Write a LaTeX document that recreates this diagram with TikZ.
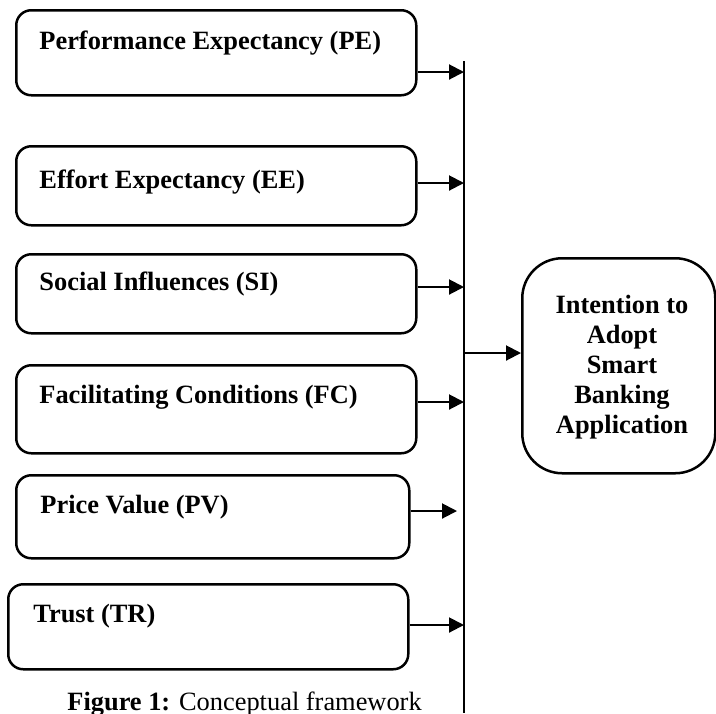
\documentclass[tikz,border=0pt]{standalone}
\usepackage{fontspec}
\setmainfont{Liberation Serif}
\usetikzlibrary{arrows.meta}
\begin{document}
\begin{tikzpicture}[x=0.5pt,y=-0.5pt,
  factor/.style={draw, line width=1.25pt, rounded corners=7.5pt, inner sep=0pt, anchor=north west},
  outcome/.style={draw, line width=1.25pt, rounded corners=20pt, inner sep=0pt, anchor=north west},
  lbl/.style={font=\fontsize{13.2}{15}\selectfont\bfseries, inner sep=0pt, anchor=base west},
  link/.style={line width=1pt, -{Triangle[length=7.5pt,width=7.5pt]}},
  bus/.style={line width=1pt}]
\useasboundingbox (0,0) rectangle (716,713);

% predictor boxes
\node[factor, minimum width=200pt, minimum height=42.5pt] (pe) at (15,9) {};
\node[factor, minimum width=200pt, minimum height=39.5pt] (ee) at (15,145) {};
\node[factor, minimum width=200pt, minimum height=39.5pt] (si) at (15,253) {};
\node[factor, minimum width=200pt, minimum height=44pt] (fc) at (15,364) {};
\node[factor, minimum width=196.5pt, minimum height=41.5pt] (pv) at (15,474) {};
\node[factor, minimum width=200pt, minimum height=42.5pt] (tr) at (7,583) {};

% predictor labels
\node[lbl] (peT) at (39,49) {Performance Expectancy (PE)};
\node[lbl] (eeT) at (39,188) {Effort Expectancy (EE)};
\node[lbl] (siT) at (39,290) {Social Influences (SI)};
\node[lbl] (fcT) at (39,403) {Facilitating Conditions (FC)};
\node[lbl] (pvT) at (40,513) {Price Value (PV)};
\node[lbl] (trT) at (33,622) {Trust (TR)};

% outcome box
\node[outcome, minimum width=96.5pt, minimum height=107.5pt] (io) at (521,257) {};
\node[font=\fontsize{13.2}{15}\selectfont\bfseries, align=center, inner sep=0pt] (ioT) at (622,367)
  {Intention to\\Adopt\\Smart\\Banking\\Application};

% collecting bus
\coordinate (busTop) at (464,61);
\coordinate (busBot) at (464,713);
\draw[bus] (busTop) -- (busBot);

\coordinate (tPE) at (464,72);
\coordinate (tEE) at (464,183);
\coordinate (tSI) at (464,287);
\coordinate (tFC) at (464,402);
\coordinate (tPV) at (457,511);
\coordinate (tTR) at (464,625);
\coordinate (jn) at (464,353);

\draw[link] (pe.east |- tPE) -- (tPE);
\draw[link] (ee.east |- tEE) -- (tEE);
\draw[link] (si.east |- tSI) -- (tSI);
\draw[link] (fc.east |- tFC) -- (tFC);
\draw[link] (pv.east |- tPV) -- (tPV);
\draw[link] (tr.east |- tTR) -- (tTR);
\draw[link] (jn) -- (io.west |- jn);

% caption
\node[font=\fontsize{13.2}{15}\selectfont, inner sep=0pt, anchor=base west] (cap) at (67,710)
  {\textbf{Figure 1:} Conceptual framework};
\end{tikzpicture}
\end{document}
